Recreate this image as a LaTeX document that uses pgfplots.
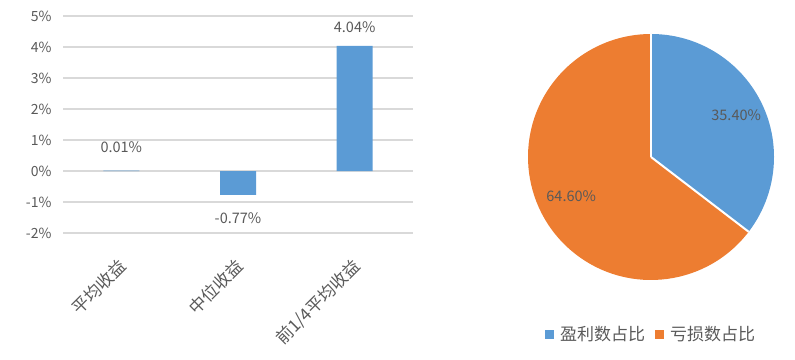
\documentclass[border=0pt]{standalone}
\usepackage{pgfplots}
\pgfplotsset{compat=1.18}
\usepackage{pgfplotstable}
\usepackage{fontspec}
\setmainfont{Noto Sans CJK SC}
\definecolor{cblue}{HTML}{5B9BD5}
\definecolor{corange}{HTML}{ED7D31}
\definecolor{txt}{HTML}{595959}
\definecolor{gridc}{HTML}{D9D9D9}
\pgfplotstableread{
x y lab off
0 0.01 0.01\% 5
1 -0.77 -0.77\% -5
2 4.04 4.04\% 0
}\bardata
\pgfplotstableread{
label value
profit 35.40
loss 64.60
}\piedata
\begin{document}
\begin{tikzpicture}[x=1pt,y=1pt]
\useasboundingbox (0,0) rectangle (795,359);
\begin{axis}[
  at={(63pt,126pt)}, anchor=south west,
  scale only axis, width=350pt, height=217pt,
  xmin=-0.5, xmax=2.5, ymin=-2, ymax=5,
  ybar, bar width=36pt,
  axis line style={draw=none},
  major tick length=0pt,
  ymajorgrids, grid style={draw=gridc, line width=1.5pt},
  ytick={-2,-1,0,1,2,3,4,5},
  yticklabels={-2\%,-1\%,0\%,1\%,2\%,3\%,4\%,5\%},
  yticklabel style={font=\fontsize{14}{15}\selectfont, text=txt, xshift=-8pt},
  xtick={0,1,2},
  xticklabels={平均收益,中位收益,前1/4平均收益},
  xticklabel style={font=\fontsize{17}{18}\selectfont, text=txt, rotate=45, anchor=north east, xshift=-16pt, yshift=-11pt},
  visualization depends on={rawy \as \rawy},
  visualization depends on={\thisrow{off} \as \laboff},
  nodes near coords,
  point meta=explicit symbolic,
  nodes near coords style={font=\fontsize{14.5}{15}\selectfont, text=txt, inner sep=13pt,
    anchor={\ifdim\rawy pt<0pt north\else south\fi},
    yshift=\laboff pt},
  clip=false,
]
\addplot[fill=cblue, draw=none] table[x=x, y=y, meta=lab] {\bardata};
\end{axis}
\pgfplotstablegetelem{0}{value}\of\piedata \let\vA\pgfplotsretval
\pgfplotstablegetelem{1}{value}\of\piedata \let\vB\pgfplotsretval
\pgfmathsetmacro\aEnd{90-3.6*\vA}
\pgfmathsetmacro\aMidA{90-1.8*\vA}
\pgfmathsetmacro\aMidB{\aEnd-1.8*\vB}
\begin{axis}[
  at={(528pt,79pt)}, anchor=south west,
  scale only axis, width=246pt, height=246pt,
  xmin=-1, xmax=1, ymin=-1, ymax=1,
  hide axis, clip=false,
  legend columns=-1,
  legend style={at={(0.5,-0.22)}, anchor=center, draw=none, fill=none,
    font=\fontsize{17}{18}\selectfont, text=txt,
    /tikz/every odd column/.append style={column sep=4pt},
    /tikz/every even column/.append style={column sep=8pt}},
  legend image code/.code={\fill (0pt,-4.5pt) rectangle (9pt,4.5pt);},
]
\addlegendimage{fill=cblue, draw=none}
\addlegendentry{盈利数占比}
\addlegendimage{fill=corange, draw=none}
\addlegendentry{亏损数占比}
\fill[cblue] (axis cs:0,0) -- ++(90:123pt) arc[start angle=90, end angle=\aEnd, radius=123pt] -- cycle;
\fill[corange] (axis cs:0,0) -- ++(\aEnd:123pt) arc[start angle=\aEnd, end angle=-270, radius=123pt] -- cycle;
\draw[white, line width=2pt] (axis cs:0,0) -- ++(90:123pt);
\draw[white, line width=2pt] (axis cs:0,0) -- ++(\aEnd:123pt);
\path (axis cs:0,0) ++(\aMidA:95pt) node[font=\fontsize{14.5}{15}\selectfont, text=txt] {35.40\%};
\path (axis cs:0,0) ++(\aMidB:89pt) node[font=\fontsize{14.5}{15}\selectfont, text=txt] {64.60\%};
\end{axis}
\end{tikzpicture}
\end{document}
